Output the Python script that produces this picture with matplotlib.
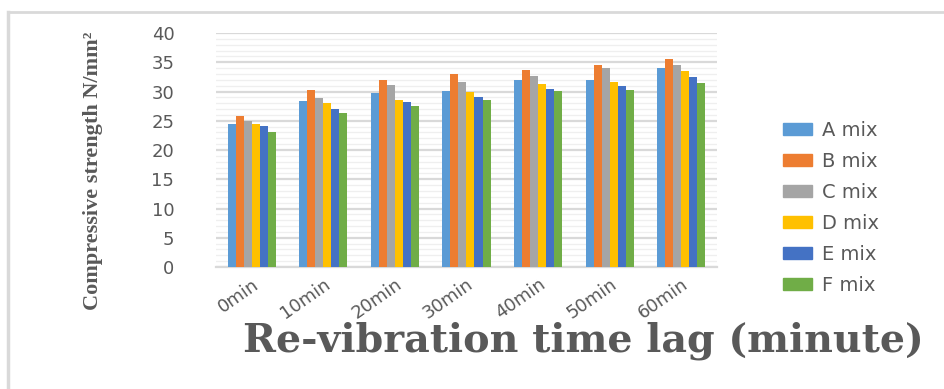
import numpy as np
import matplotlib.pyplot as plt
from matplotlib.lines import Line2D
from matplotlib.patches import Patch

# Compressive strength (N/mm2) for each mix at each re-vibration time lag
lags = ["0min", "10min", "20min", "30min", "40min", "50min", "60min"]
mix_a = [24.5, 28.3, 29.8, 30.1, 31.9, 32.0, 34.0]
mix_b = [25.8, 30.2, 31.9, 33.0, 33.6, 34.6, 35.6]
mix_c = [24.9, 28.9, 31.1, 31.6, 32.6, 34.0, 34.6]
mix_d = [24.5, 28.0, 28.6, 30.0, 31.25, 31.7, 33.5]
mix_e = [24.1, 27.0, 28.2, 29.0, 30.4, 31.0, 32.4]
mix_f = [23.1, 26.25, 27.6, 28.5, 30.1, 30.2, 31.4]
mix_names = ["A mix", "B mix", "C mix", "D mix", "E mix", "F mix"]
colors = ["#5b9bd5", "#ed7d31", "#a5a5a5", "#ffc000", "#4472c4", "#70ad47"]

series = [mix_a, mix_b, mix_c, mix_d, mix_e, mix_f]

fig = plt.figure(figsize=(9.44, 3.89), dpi=100)
ax = fig.add_axes([0.2288, 0.3136, 0.5307, 0.6015])

x = np.arange(len(lags))
w = 0.112
for i, (vals, name, c) in enumerate(zip(series, mix_names, colors)):
    ax.bar(x + (i - 2.5) * w, vals, w, color=c, label=name, zorder=3)

ax.set_xlim(-0.5, len(lags) - 0.5)
ax.set_ylim(0, 40)
ax.set_yticks(range(0, 41, 5))
ax.set_yticks(range(0, 41, 1), minor=True)
ax.grid(axis="y", which="major", color="#d9d9d9", lw=1.6, zorder=0)
ax.grid(axis="y", which="minor", color="#efefef", lw=0.9, zorder=0)
for s in ax.spines.values():
    s.set_visible(False)
ax.spines["bottom"].set_visible(True)
ax.spines["bottom"].set_color("#d9d9d9")
ax.spines["bottom"].set_linewidth(1.6)

ax.tick_params(axis="both", which="both", length=0)
ax.tick_params(axis="y", pad=30, labelsize=13, labelcolor="#595959")
ax.set_xticks(x)
ax.set_xticklabels(lags, rotation=35, ha="right", rotation_mode="anchor",
                   fontsize=13, color="#595959")
ax.tick_params(axis="x", pad=6)

ax.set_ylabel("Compressive strength N/mm²", family="Liberation Serif",
              fontweight="bold", fontsize=16, color="#595959")
ax.yaxis.set_label_coords(-0.225, 0.41)
fig.text(0.2575, 0.124, "Re-vibration time lag (minute)", family="DejaVu Serif",
         fontweight="bold", fontsize=28.5, color="#595959", va="center")

handles = [Patch(color=c) for c in colors]
fig.legend(handles, mix_names, loc="center left", bbox_to_anchor=(0.811, 0.466),
           frameon=False, fontsize=14, labelcolor="#595959",
           labelspacing=0.62, handletextpad=0.5, handlelength=1.5,
           handleheight=0.55)

# light frame lines on the left and top of the chart area
fig.add_artist(Line2D([0.009, 0.009], [0.0, 0.968], color="#d9d9d9", lw=2.5,
                      transform=fig.transFigure))
fig.add_artist(Line2D([0.008, 1.0], [0.968, 0.968], color="#d9d9d9", lw=2,
                      transform=fig.transFigure))

fig.savefig("out.png", dpi=100)
